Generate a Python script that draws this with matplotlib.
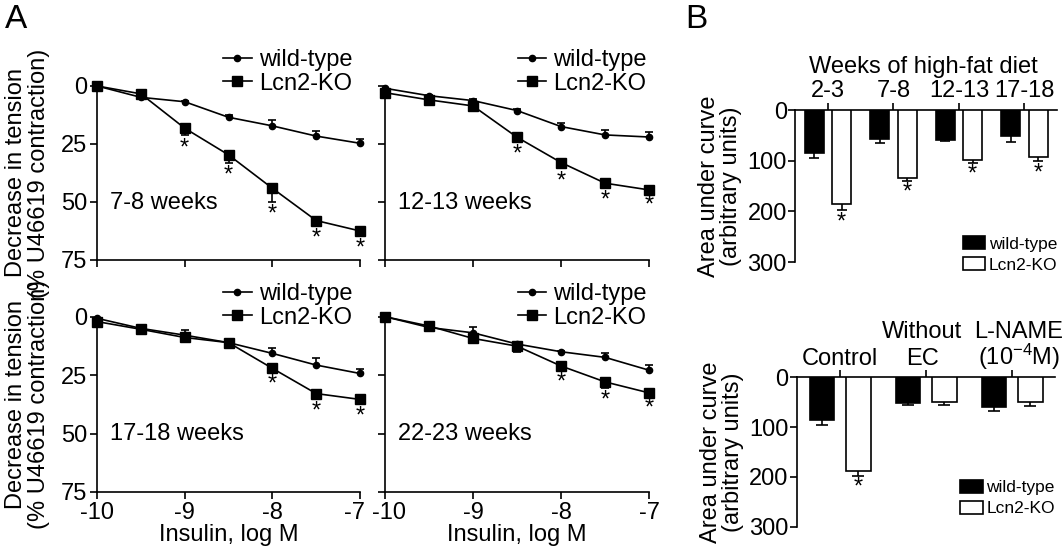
import numpy as np
import matplotlib
matplotlib.use("Agg")
import matplotlib.pyplot as plt
import matplotlib.transforms as mtransforms
from matplotlib.patches import Patch

plt.rcParams['font.family'] = ['Liberation Sans', 'DejaVu Sans']
plt.rcParams['mathtext.fontset'] = 'custom'
plt.rcParams['mathtext.rm'] = 'Liberation Sans'
plt.rcParams['mathtext.it'] = 'Liberation Sans:italic'
plt.rcParams['axes.unicode_minus'] = False

# insulin concentrations (log M)
x_log = [-10, -9.5, -9, -8.5, -8, -7.5, -7]

# panel A data, decrease in tension (% U46619 contraction)
wt_78 = [0, 4.9, 6.8, 13.5, 17.2, 21.6, 24.7]
wt_78_err = [0, 0.5, 0.5, 0.8, 2.5, 2.0, 2.0]
ko_78 = [0, 3.4, 18.2, 29.7, 44.1, 58.0, 62.5]
ko_78_err = [0, 0.8, 2.9, 3.3, 5.7, 1.9, 1.7]
sig_78 = [-9, -8.5, -8, -7.5, -7]

wt_1213 = [1.0, 4.2, 6.3, 10.6, 17.5, 21.1, 22.0]
wt_1213_err = [0, 0.5, 0.5, 0.5, 1.7, 2.2, 2.3]
ko_1213 = [2.9, 6.0, 8.6, 22.1, 33.0, 41.9, 44.8]
ko_1213_err = [0, 0.5, 1.7, 1.9, 2.4, 1.7, 0.8]
sig_1213 = [-8.5, -8, -7.5, -7]

wt_1718 = [0.7, 5.0, 7.9, 11.1, 15.7, 20.7, 24.3]
wt_1718_err = [0, 1.0, 2.4, 0.5, 2.1, 3.1, 2.1]
ko_1718 = [2.1, 5.4, 8.9, 11.1, 22.1, 32.9, 35.4]
ko_1718_err = [0, 1.7, 1.1, 1.4, 1.1, 2.1, 1.7]
sig_1718 = [-8, -7.5, -7]

wt_2223 = [0, 4.6, 6.9, 11.7, 15.0, 17.4, 22.9]
wt_2223_err = [0, 0.5, 2.3, 0.5, 0.5, 2.0, 2.4]
ko_2223 = [0, 4.0, 9.3, 12.6, 21.1, 27.9, 32.6]
ko_2223_err = [0, 0.5, 1.4, 2.4, 1.4, 2.4, 1.0]
sig_2223 = [-8, -7.5, -7]

# panel B data, area under curve
weeks = ['2-3', '7-8', '12-13', '17-18']
wt_auc = [84, 57, 59, 52]
wt_auc_err = [10, 8, 2, 12]
ko_auc = [186, 134, 98, 92]
ko_auc_err = [12, 6, 6, 9]

conds_top = ['', 'Without', 'L-NAME']
conds_bottom = ['Control', 'EC', '(10$^{-4}$M)']
wt_cond = [86, 52, 59]
wt_cond_err = [10, 4, 8]
ko_cond = [188, 49, 50]
ko_cond_err = [10, 7, 8]
sig_cond = [True, False, False]

FS = 17
LW = 1.2


def one_sided_err(ax, x, y, err, sign, cap=6):
    x = np.asarray(x, float)
    y = np.asarray(y, float)
    err = np.asarray(err, float)
    m = err > 0
    end = y + sign * err
    ax.vlines(x[m], y[m], end[m], color='black', lw=LW, zorder=2, clip_on=False)
    ax.plot(x[m], end[m], ls='none', marker='_', ms=cap, mew=LW, color='black',
            zorder=2, clip_on=False)


def shift_label(fig, label, dx_px):
    off = mtransforms.ScaledTranslation(dx_px / fig.dpi, 0, fig.dpi_scale_trans)
    label.set_transform(label.get_transform() + off)


def line_panel(ax, wt, wt_err, ko, ko_err, sig, label, bottom_row, leg_anchor):
    one_sided_err(ax, x_log, wt, wt_err, -1)
    one_sided_err(ax, x_log, ko, ko_err, +1)
    ax.plot(x_log, wt, color='black', lw=LW, marker='o', ms=4.5, zorder=3,
            clip_on=False, label='wild-type')
    ax.plot(x_log, ko, color='black', lw=LW, marker='s', ms=6.5, zorder=3,
            clip_on=False, label='Lcn2-KO')
    for xs in sig:
        i = x_log.index(xs)
        ax.text(xs, ko[i] + ko_err[i] + 1.0, '*', ha='center', va='top',
                fontsize=FS)
    ax.set_xlim(-10, -7)
    ax.set_ylim(75, 0)
    ax.set_xticks([-10, -9, -8, -7])
    ax.set_yticks([0, 25, 50, 75])
    for s in ['top', 'right']:
        ax.spines[s].set_visible(False)
    for s in ['left', 'bottom']:
        ax.spines[s].set_linewidth(LW)
    ax.tick_params(direction='out', length=5, width=LW, labelsize=FS, pad=2)
    if not bottom_row:
        ax.set_xticklabels([])
    else:
        ax.set_xlabel('Insulin, log M', fontsize=FS, labelpad=0)
    ax.text(0.05, 0.33, label, transform=ax.transAxes, fontsize=FS, va='center')
    ax.legend(loc='upper right', bbox_to_anchor=leg_anchor, frameon=False,
              fontsize=FS, borderpad=0, borderaxespad=0, handlelength=1.2,
              handletextpad=0.3, labelspacing=0.05)


def bar_panel(ax, n, wt, wt_err, ko, ko_err, sig, leg_anchor, cap_w):
    pos = np.arange(n)
    w = 0.29
    one_sided_err(ax, pos - 0.21, wt, wt_err, +1, cap=cap_w)
    one_sided_err(ax, pos + 0.21, ko, ko_err, +1, cap=cap_w)
    ax.bar(pos - 0.21, wt, width=w, color='black', edgecolor='black', lw=LW,
           zorder=3)
    ax.bar(pos + 0.21, ko, width=w, color='white', edgecolor='black', lw=LW,
           zorder=3)
    for p, k, e, s in zip(pos, ko, ko_err, sig):
        if s:
            ax.text(p + 0.21, k + e + 2, '*', ha='center', va='top', fontsize=FS)
    ax.set_xlim(-0.5, n - 0.5)
    ax.set_ylim(300, 0)
    ax.set_yticks([0, 100, 200, 300])
    ax.xaxis.tick_top()
    ax.set_xticks(pos)
    for s in ['bottom', 'right']:
        ax.spines[s].set_visible(False)
    for s in ['left', 'top']:
        ax.spines[s].set_linewidth(LW)
    ax.tick_params(direction='out', length=5, width=LW, labelsize=FS, pad=1)
    ax.set_ylabel('Area under curve\n(arbitrary units)', fontsize=FS,
                  labelpad=4, linespacing=1.0)
    handles = [Patch(facecolor='black', edgecolor='black', lw=LW),
               Patch(facecolor='white', edgecolor='black', lw=LW)]
    ax.legend(handles, ['wild-type', 'Lcn2-KO'], loc='lower right',
              bbox_to_anchor=leg_anchor, frameon=False, fontsize=12.5,
              borderpad=0, borderaxespad=0, handlelength=1.3, handleheight=0.8,
              handletextpad=0.2, labelspacing=0.3)


fig = plt.figure(figsize=(10.63, 5.5), dpi=100)

ax1 = fig.add_axes([0.0913, 0.5273, 0.2474, 0.3164])
ax2 = fig.add_axes([0.3622, 0.5273, 0.2484, 0.3164])
ax3 = fig.add_axes([0.0913, 0.1055, 0.2474, 0.3187])
ax4 = fig.add_axes([0.3622, 0.1055, 0.2484, 0.3187])

line_panel(ax1, wt_78, wt_78_err, ko_78, ko_78_err, sig_78, '7-8 weeks',
           False, (0.97, 1.21))
line_panel(ax2, wt_1213, wt_1213_err, ko_1213, ko_1213_err, sig_1213,
           '12-13 weeks', False, (0.99, 1.21))
line_panel(ax3, wt_1718, wt_1718_err, ko_1718, ko_1718_err, sig_1718,
           '17-18 weeks', True, (0.97, 1.19))
line_panel(ax4, wt_2223, wt_2223_err, ko_2223, ko_2223_err, sig_2223,
           '22-23 weeks', True, (0.99, 1.19))
ax2.set_yticklabels([])
ax4.set_yticklabels([])
for ax in (ax1, ax3):
    ax.set_ylabel('Decrease in tension\n(% U46619 contraction)', fontsize=FS,
                  labelpad=8, linespacing=1.05)

# keep "-7" and "-10" of neighbouring panels apart, as in the original
shift_label(fig, ax3.get_xticklabels()[-1], -6)
shift_label(fig, ax4.get_xticklabels()[0], 4)

bx1 = fig.add_axes([0.748, 0.5236, 0.2465, 0.2764])
bx2 = fig.add_axes([0.7498, 0.0424, 0.2427, 0.2716])
bar_panel(bx1, len(weeks), wt_auc, wt_auc_err, ko_auc, ko_auc_err,
          [True] * 4, (1.0, -0.07), 7)
bx1.set_xticklabels(weeks, fontsize=FS)
bx1.text(0.49, 1.28, 'Weeks of high-fat diet', transform=bx1.transAxes,
         ha='center', va='center', fontsize=FS)

bar_panel(bx2, len(conds_bottom), wt_cond, wt_cond_err, ko_cond, ko_cond_err,
          sig_cond, (1.0, 0.07), 9)
bx2.set_xticklabels([])
trans = bx2.get_xaxis_transform()
nudge = [0, -4, 7]
for i, (t1, t2) in enumerate(zip(conds_top, conds_bottom)):
    for txt, yy in ((t2, 1.085), (t1, 1.265)):
        t = bx2.text(i, yy, txt, transform=trans, ha='center', va='baseline',
                     fontsize=FS)
        shift_label(fig, t, nudge[i])

fig.text(0.005, 0.965, 'A', fontsize=24, va='center', ha='left')
fig.text(0.645, 0.965, 'B', fontsize=24, va='center', ha='left')

fig.savefig('out.png', dpi=100)
